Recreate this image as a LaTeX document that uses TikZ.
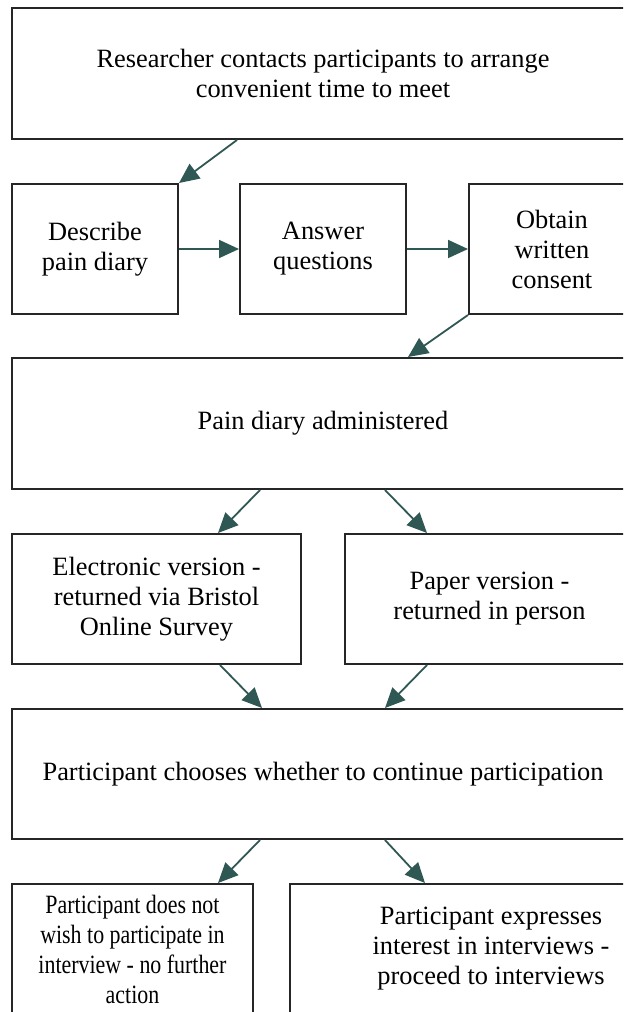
\documentclass[tikz,border=0pt]{standalone}
\usepackage{fontspec}
\setmainfont{Liberation Serif}
\newfontfamily\narrowserif[FakeStretch=0.83]{Liberation Serif}
\usetikzlibrary{arrows.meta}
\usetikzlibrary{calc}

\definecolor{flowteal}{RGB}{47,87,83}

\tikzset{
    box/.style={rectangle,draw=black!85,line width=1pt,fill=white,anchor=north west,align=center,
        font=\fontsize{13.2}{15}\selectfont,inner sep=2pt},
    flow/.style={draw=flowteal,line width=0.9pt,-{Triangle[length=10pt,width=9pt]},fill=flowteal}
}

\begin{document}
\begin{tikzpicture}[x=0.5pt,y=-0.5pt]
        \useasboundingbox (0,0) rectangle (623,1012);
        \clip (0,0) rectangle (623,1012);

        % first contact
        \node[box,minimum width=311pt,minimum height=65.5pt] (contact) at (11,7) {Researcher contacts participants to arrange\\convenient time to meet};

        % meeting
        \node[box,minimum width=83pt,minimum height=65pt] (describe) at (11,183) {Describe\\pain diary};
        \node[box,minimum width=83pt,minimum height=65pt] (answer) at (239,183) {Answer\\questions};
        \node[box,minimum width=83pt,minimum height=65pt] (consent) at (468,183) {Obtain\\written\\consent};

        % diary
        \node[box,minimum width=311pt,minimum height=65.5pt] (diary) at (11,357) {Pain diary administered};
        \node[box,minimum width=144.5pt,minimum height=65pt] (electronic) at (11,533) {Electronic version -\\returned via Bristol\\Online Survey};
        \node[box,minimum width=144.5pt,minimum height=65pt] (paper) at (344,533) {Paper version -\\returned in person};

        % choice
        \node[box,minimum width=311pt,minimum height=65pt] (choose) at (11,708) {Participant chooses whether to continue participation};
        \node[box,minimum width=120.5pt,minimum height=65pt,font=\narrowserif\fontsize{13.2}{15}\selectfont] (decline) at (11,883) {Participant does not\\wish to participate in\\interview - no further\\action};
        \node[box,minimum width=201pt,minimum height=65pt] (proceed) at (289,883) {Participant expresses\\interest in interviews -\\proceed to interviews};

        % arrows
        \draw[flow] ($(contact.south west)+(226,0)$) -- (describe.north east);
        \draw[flow] (describe.east) -- (answer.west);
        \draw[flow] (answer.east) -- (consent.west);
        \draw[flow] (consent.south west) -- ($(diary.north west)+(397,0)$);

        \draw[flow] ($(diary.south west)+(249,0)$) -- ($(electronic.north west)+(207,0)$);
        \draw[flow] ($(diary.south west)+(374,0)$) -- ($(paper.north west)+(83,0)$);

        \draw[flow] ($(electronic.south west)+(209,0)$) -- ($(choose.north west)+(251,0)$);
        \draw[flow] ($(paper.south west)+(83,0)$) -- ($(choose.north west)+(374,0)$);

        \draw[flow] ($(choose.south west)+(249,0)$) -- ($(decline.north west)+(207,0)$);
        \draw[flow] ($(choose.south west)+(374,0)$) -- ($(proceed.north west)+(136,0)$);
    \end{tikzpicture}
\end{document}
